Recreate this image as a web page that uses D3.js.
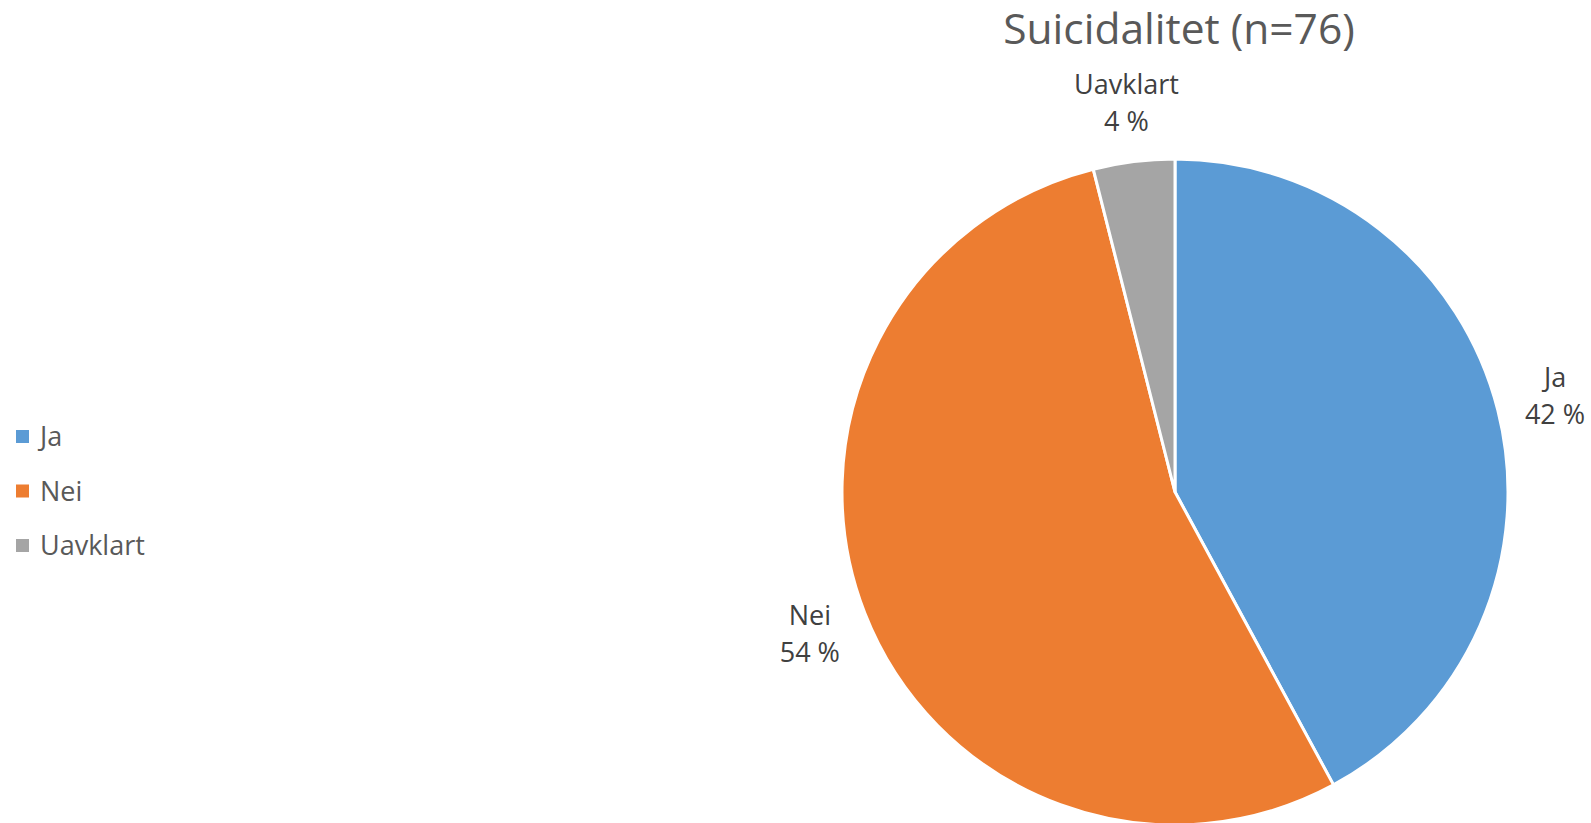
<!DOCTYPE html>
<html>
<head>
<meta charset="utf-8">
<script src="https://cdn.jsdelivr.net/npm/d3@7"></script>
<style>
  html, body { margin: 0; padding: 0; background: #fff; }
  svg { display: block; font-family: "Open Sans", "Noto Sans", sans-serif; }
</style>
</head>
<body>
<svg id="chart" width="1591" height="823"></svg>
<script>
// data (n=76)
var categories = ['Ja', 'Nei', 'Uavklart']
var counts     = [32, 41, 3]
var colors     = ['#5B9BD5', '#ED7D31', '#A5A5A5']
var title      = 'Suicidalitet (n=76)'

var svg = d3.select('#chart')
var width = 1591, height = 823
var cx = 1175, cy = 492, radius = 333
var total = d3.sum(counts)

var color = d3.scaleOrdinal().domain(categories).range(colors)

var pie = d3.pie().sort(null).value(function(d) { return d.value })
var rows = categories.map(function(c, i) { return { name: c, value: counts[i] } })
var arcs = pie(rows)

var arc = d3.arc().innerRadius(0).outerRadius(radius)
var labelArc = d3.arc().innerRadius(radius + 59).outerRadius(radius + 59)

// title
svg.append('text')
    .attr('x', 1179)
    .attr('y', 44)
    .attr('text-anchor', 'middle')
    .attr('fill', '#595959')
    .attr('font-size', 42.5)
    .text(title)

var g = svg.append('g').attr('transform', 'translate(' + cx + ',' + cy + ')')

g.selectAll('path.slice')
    .data(arcs)
    .enter().append('path')
    .attr('class', 'slice')
    .attr('d', arc)
    .attr('fill', function(d) { return color(d.data.name) })
    .attr('stroke', '#fff')
    .attr('stroke-width', 3)
    .attr('stroke-linejoin', 'round')

// data labels: category + percent
var pct = d3.format('.0f')
var labels = g.selectAll('text.lbl')
    .data(arcs)
    .enter().append('text')
    .attr('class', 'lbl')
    .attr('text-anchor', 'middle')
    .attr('fill', '#404040')
    .attr('font-size', 27)
    .attr('transform', function(d) {
        var p = labelArc.centroid(d)
        return 'translate(' + p[0] + ',' + p[1] + ')'
    })
labels.append('tspan').attr('x', 0).attr('y', -9).text(function(d) { return d.data.name })
labels.append('tspan').attr('x', 0).attr('y', 28).text(function(d) { return pct(d.data.value / total * 100) + ' %' })

// legend
var legend = svg.append('g').attr('transform', 'translate(16,430)')
var item = legend.selectAll('g')
    .data(categories)
    .enter().append('g')
    .attr('transform', function(d, i) { return 'translate(0,' + (i * 54.5) + ')' })
item.append('rect')
    .attr('width', 13).attr('height', 13)
    .attr('fill', function(d) { return color(d) })
item.append('text')
    .attr('x', 24).attr('y', 16)
    .attr('fill', '#595959')
    .attr('font-size', 27)
    .text(function(d) { return d })
</script>
</body>
</html>
